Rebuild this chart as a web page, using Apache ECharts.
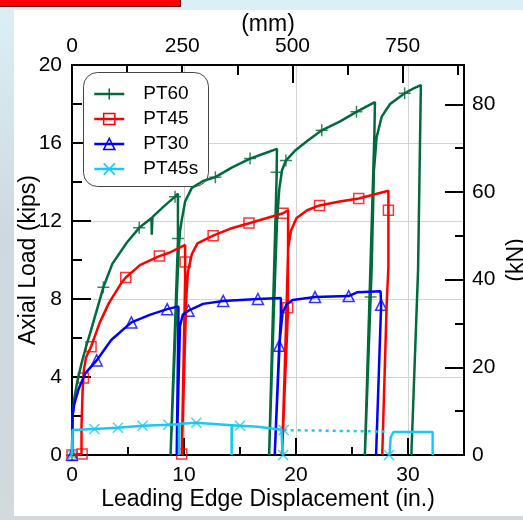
<!DOCTYPE html>
<html>
<head>
<meta charset="utf-8">
<script src="https://cdn.jsdelivr.net/npm/echarts@6/dist/echarts.min.js"></script>
<style>
  html, body { margin: 0; padding: 0; }
  body {
    width: 523px; height: 520px; overflow: hidden; position: relative;
    background: linear-gradient(180deg, #dcefF8 0%, #cdd9e2 45%, #d3d9dd 100%);
  }
  #bar { position: absolute; left: 0; top: 0; width: 180px; height: 6px; background: #f00;
         border-right: 1px solid #600; border-bottom: 1px solid #600; }
  #card { position: absolute; left: 14px; top: 10px; right: 0; bottom: 4px; background: #fff; }
  #chart { position: absolute; left: 0; top: 0; width: 523px; height: 520px; }
</style>
</head>
<body>
<div id="bar"></div>
<div id="card"></div>
<div id="chart"></div>
<script>
// displacement in inches, load in kips
var pt60 = [
  [0, 0], [0.05, 2.0], [0.2, 2.9], [0.5, 3.85], [0.85, 4.7], [1.25, 5.55], [1.7, 6.4], [2.15, 7.3],
  [2.8, 8.6], [3.6, 9.8], [4.9, 10.9], [6.0, 11.65], [7.1, 12.15], [7.12, 11.3], [7.18, 12.2],
  [8.2, 12.75], [9.2, 13.25], [9.46, 13.4], [9.46, 11.0], [8.8, 0],
  [9.2, 5.8], [9.52, 10.5], [9.65, 11.5], [9.8, 12.05], [10.1, 13.0], [10.7, 13.7], [11.7, 14.05],
  [12.8, 14.25], [14.3, 14.75], [15.9, 15.2], [17.1, 15.45], [18.3, 15.7], [18.27, 14.3], [17.6, 0],
  [18.0, 7.0], [18.3, 11.9], [18.5, 13.6], [18.75, 14.6], [19.1, 15.1], [19.9, 15.6], [21.0, 16.1],
  [22.3, 16.65], [23.9, 17.1], [25.4, 17.6], [26.4, 17.9], [27.05, 18.1], [27.0, 16.5], [26.15, 0],
  [26.5, 5.5], [26.75, 9.5], [26.96, 14.6], [27.2, 16.3], [27.65, 17.35], [28.4, 18.0], [29.7, 18.55],
  [30.5, 18.8], [31.15, 18.97], [30.9, 9.5], [30.3, 0]
];
var pt60Marks = [
  [0, 0], [2.8, 8.6], [6.0, 11.65], [9.2, 13.25], [9.46, 11.1], [12.8, 14.25], [15.9, 15.2],
  [18.27, 14.5], [19.1, 15.1], [22.3, 16.65], [25.4, 17.6], [26.66, 8.1], [29.7, 18.55]
];

var pt45 = [
  [0, 0], [0.85, 0.05], [0.85, 1.5], [0.95, 3.3], [1.05, 4.3], [1.25, 5.0], [1.7, 5.55], [2.45, 6.75],
  [3.3, 7.8], [4.5, 8.9], [4.8, 9.1], [6.1, 9.75], [7.8, 10.2], [8.8, 10.4], [10.1, 10.77],
  [10.1, 9.0], [9.8, 0], [10.05, 5.0], [10.2, 8.0], [10.35, 9.4], [10.7, 10.3], [11.2, 10.85],
  [12.6, 11.25], [14.1, 11.6], [15.9, 11.9], [18.85, 12.4], [19.3, 12.55], [19.27, 7.2], [18.75, 0],
  [19.0, 4.5], [19.2, 8.5], [19.3, 10.6], [19.55, 11.5], [20.05, 12.15], [21.0, 12.55], [22.1, 12.8],
  [23.9, 13.0], [25.6, 13.15], [28.25, 13.55], [28.25, 9.6], [28.1, 7.8], [27.7, 0]
];
var pt45Marks = [
  [0, 0], [0.9, 0.05], [1.02, 3.95], [1.7, 5.55], [4.8, 9.1], [7.8, 10.2], [10.1, 9.9], [9.8, 0.05],
  [12.6, 11.25], [15.8, 11.9], [18.85, 12.4], [19.26, 7.55], [22.1, 12.8], [25.6, 13.15], [28.25, 12.55]
];

var pt30 = [
  [0, 0], [0.05, 2.0], [0.2, 2.6], [0.6, 3.4], [1.2, 4.2], [2.2, 4.85], [3.5, 5.9], [5.3, 6.8],
  [7.0, 7.2], [8.5, 7.48], [9.5, 7.62], [9.5, 7.0], [9.35, 0], [9.5, 3.5], [9.64, 6.6], [9.9, 7.2],
  [10.4, 7.4], [11.7, 7.75], [13.5, 7.9], [16.6, 8.0], [18.65, 8.05], [18.65, 7.2], [18.1, 0],
  [18.3, 2.8], [18.5, 5.6], [18.8, 7.3], [19.2, 7.75], [19.7, 7.95], [21.7, 8.1], [24.7, 8.15],
  [25.5, 8.35], [27.55, 8.4], [27.6, 7.7], [27.15, 0]
];
var pt30Marks = [
  [0, 0], [2.2, 4.85], [5.3, 6.8], [8.5, 7.48], [10.4, 7.4], [13.5, 7.9], [16.6, 8.0], [18.5, 5.6],
  [21.7, 8.1], [24.7, 8.15], [27.6, 7.7]
];

var pt45s = [
  [0, 0], [0.05, 1.28], [2.0, 1.33], [4.1, 1.4], [6.3, 1.5], [8.6, 1.55], [9.55, 1.58], [9.55, 0],
  [9.6, 1.6], [11.1, 1.65], [13.0, 1.58], [14.25, 1.52], [14.25, 0], [14.3, 1.52], [15.0, 1.5],
  [16.6, 1.45], [18.7, 1.3], [18.8, 0]
];
var pt45sGap = [[18.9, 1.28], [28.1, 1.2]];
var pt45sEnd = [[28.35, 0], [28.45, 0.9], [28.7, 1.18], [32.2, 1.18], [32.2, 0]];
var pt45sMarks = [
  [0, 0], [2.0, 1.33], [4.1, 1.4], [6.3, 1.5], [8.6, 1.55], [11.1, 1.65], [15.0, 1.5],
  [18.9, 1.28], [18.85, 0], [28.3, 0]
];

var xMaxIn = 35;
var yMaxKips = 20;

var font = "'Liberation Sans', Arial, sans-serif";
var plus = 'path://M5,0V10M0,5H10';
var cross = 'path://M0,0L10,10M10,0L0,10';

function lineSeries(name, data, color, symbol, fill) {
  return {
    name: name, type: 'line', data: data, clip: false,
    symbol: symbol, showSymbol: false, symbolSize: 10,
    lineStyle: { color: color, width: 2.5 },
    itemStyle: { color: fill, borderColor: color, borderWidth: 1.5 },
    emphasis: { disabled: true }
  };
}
function markSeries(name, data, color, symbol, fill, size) {
  return {
    name: name, type: 'scatter', data: data, clip: false,
    symbol: symbol, symbolSize: size,
    itemStyle: { color: fill, borderColor: color, borderWidth: 1.5 },
    emphasis: { disabled: true }, silent: true
  };
}

var green = '#006b3c', red = '#ff0000', blue = '#0000ff', cyan = '#1ac8f2';
var clear = 'rgba(255,255,255,0)';

function axisBase(extra) {
  var o = {
    type: 'value', min: 0,
    axisLine: { show: true, onZero: false, lineStyle: { color: '#000', width: 2 } },
    axisTick: { show: true, inside: true, length: 18, lineStyle: { color: '#000', width: 2 } },
    minorTick: { show: true, splitNumber: 2, length: 9, lineStyle: { color: '#000', width: 2 } },
    axisLabel: { show: true, color: '#000', fontSize: 21, fontFamily: font },
    splitLine: { show: false },
    nameTextStyle: { color: '#000', fontSize: 23, fontFamily: font },
    nameLocation: 'middle',
    nameMoveOverlap: false
  };
  for (var k in extra) {
    if (typeof extra[k] === 'object' && o[k] && !Array.isArray(extra[k])) {
      o[k] = Object.assign({}, o[k], extra[k]);
    } else {
      o[k] = extra[k];
    }
  }
  return o;
}
var grayGrid = { show: true, lineStyle: { color: '#d2d2d2', width: 1 } };

var chart = echarts.init(document.getElementById('chart'), null, { renderer: 'canvas' });
chart.setOption({
  animation: false,
  grid: { left: 72, right: 59, top: 65, bottom: 65, outerBoundsMode: 'none', containLabel: false },
  graphic: [{
    type: 'rect', z: 3, silent: true,
    shape: { x: 83.5, y: 72.5, width: 125, height: 114, r: 14 },
    style: { fill: '#fff', stroke: '#444', lineWidth: 1 }
  }],
  legend: {
    left: 93, top: 84, orient: 'vertical', selectedMode: false, z: 5,
    data: ['PT60', 'PT45', 'PT30', 'PT45s'],
    itemWidth: 30, itemHeight: 14, itemGap: 5,
    padding: 0, borderWidth: 0, backgroundColor: 'rgba(0,0,0,0)',
    itemStyle: { borderWidth: 1.5 },
    lineStyle: { width: 2.5 },
    textStyle: { color: '#000', fontSize: 19, lineHeight: 20, fontFamily: font, padding: [0, 0, 0, 14] }
  },
  xAxis: [
    axisBase({
      position: 'bottom', max: xMaxIn, interval: 10,
      axisTick: { length: 17 }, minorTick: { length: 8 },
      axisLabel: { margin: 10, formatter: function (v) { return v % 10 === 0 ? String(v) : ''; } },
      splitLine: grayGrid,
      name: 'Leading Edge Displacement (in.)', nameGap: 33
    }),
    axisBase({
      position: 'top', max: xMaxIn * 25.4, interval: 250,
      axisTick: { length: 18 }, minorTick: { length: 10 },
      axisLabel: { margin: 8, formatter: function (v) { return v % 250 === 0 ? String(v) : ''; } },
      name: '(mm)', nameGap: 29
    })
  ],
  yAxis: [
    axisBase({
      position: 'left', max: yMaxKips, interval: 4,
      axisTick: { length: 19 }, minorTick: { length: 10 },
      axisLabel: { margin: 10, formatter: function (v) { return v % 4 === 0 ? String(v) : ''; } },
      splitLine: grayGrid,
      name: 'Axial Load (kips)', nameGap: 32
    }),
    axisBase({
      position: 'right', max: yMaxKips * 4.448, interval: 20,
      axisTick: { length: 19 }, minorTick: { length: 9 },
      axisLabel: { margin: 8, formatter: function (v) { return v % 20 === 0 ? String(v) : ''; } },
      name: '(kN)', nameGap: 41, nameRotate: 90
    })
  ],
  series: [
    lineSeries('PT60', pt60, green, plus, green),
    lineSeries('PT45', pt45, red, 'rect', clear),
    lineSeries('PT30', pt30, blue, 'triangle', clear),
    lineSeries('PT45s', pt45s, cyan, cross, cyan),
    {
      name: 'PT45s end', type: 'line', data: pt45sEnd, clip: false, symbol: 'none',
      lineStyle: { color: cyan, width: 2.5 }, emphasis: { disabled: true }
    },
    {
      name: 'PT45s gap', type: 'line', data: pt45sGap, clip: false, symbol: 'none',
      lineStyle: { color: cyan, width: 2.5, type: [3, 4] }, emphasis: { disabled: true }
    },
    markSeries('PT60 marks', pt60Marks, green, plus, green, 12),
    markSeries('PT45 marks', pt45Marks, red, 'rect', clear, 10),
    markSeries('PT30 marks', pt30Marks, blue, 'triangle', clear, 11),
    markSeries('PT45s marks', pt45sMarks, cyan, cross, cyan, 10)
  ]
});
</script>
</body>
</html>
